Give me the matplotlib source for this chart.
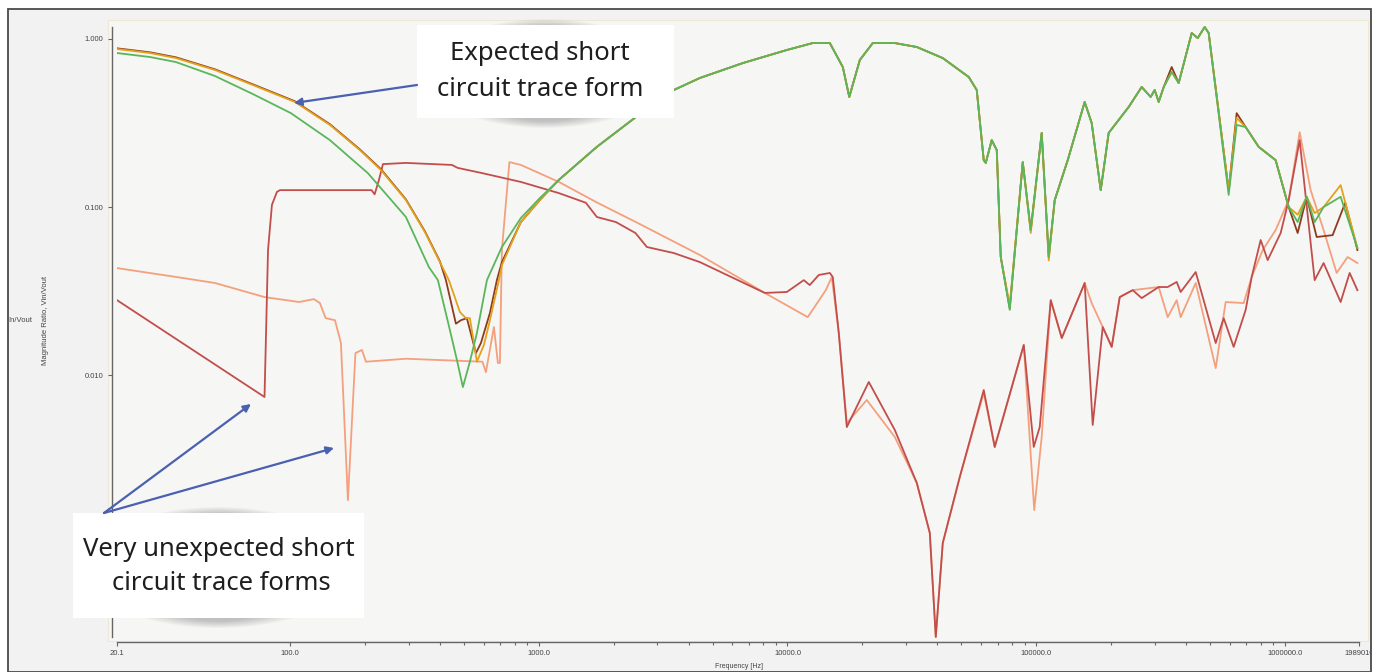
import matplotlib
matplotlib.use("Agg")
import matplotlib.pyplot as plt
from matplotlib.patches import Rectangle, Ellipse, FancyArrowPatch
from matplotlib.ticker import FixedLocator, NullFormatter

# ---------------- data ----------------
# Expected short-circuit traces
gold_freq = [20.1, 27.3, 34.7, 49.8, 70.8, 104.4, 144.4, 190.7, 231.6, 291.9, 348.0, 399.9,
             434.6, 481.3, 508.7, 527.9, 563.4, 601.1, 635.5, 690.4, 710, 846.6, 1009, 1203,
             1711, 2455, 3490, 4441, 6612, 9936, 12640, 14800, 16690, 17720, 19540, 22030,
             27010, 33110, 42120, 53580, 57700, 61560, 62720, 66290, 69450, 72070, 78330,
             88350, 95130, 105300, 112400, 118800, 134000, 156800, 167300, 181900, 195800,
             235700, 265800, 288900, 299800, 311200, 326000, 351000, 374400, 422500, 446600,
             476400, 494400, 594900, 640600, 696300, 785500, 919100, 1037000, 1127000,
             1225000, 1319000, 1433000, 1678000, 1960000]
gold_mag = [0.872, 0.825, 0.770, 0.654, 0.532, 0.422, 0.308, 0.218, 0.166, 0.110, 0.0710, 0.0470,
            0.0367, 0.0237, 0.0218, 0.0218, 0.0120, 0.0151, 0.0212, 0.0367, 0.0451, 0.0814, 0.110, 0.145,
            0.228, 0.343, 0.497, 0.586, 0.719, 0.860, 0.946, 0.946, 0.681, 0.452, 0.750, 0.946,
            0.946, 0.896, 0.770, 0.594, 0.497, 0.190, 0.183, 0.250, 0.218, 0.0504, 0.0260,
            0.185, 0.0700, 0.276, 0.0480, 0.110, 0.190, 0.422, 0.316, 0.126, 0.276,
            0.394, 0.518, 0.452, 0.497, 0.422, 0.518, 0.636, 0.547, 1.085, 1.013,
            1.178, 1.085, 0.126, 0.339, 0.299, 0.228, 0.190, 0.100, 0.0900,
            0.115, 0.0920, 0.100, 0.135, 0.0570]

brown_freq = [20.1, 27.3, 34.7, 49.8, 70.8, 104.4, 144.4, 190.7, 231.6, 291.9, 348.0, 399.9,
              422.8, 463.8, 485.8, 513.4, 558.2, 584.7, 635.5, 677.8, 710, 846.6, 1009, 1203,
              1711, 2455, 3490, 4441, 6612, 9936, 12640, 14800, 16690, 17720, 19540, 22030,
              27010, 33110, 42120, 53580, 57700, 61560, 62720, 66290, 69450, 72070, 78330,
              88350, 95130, 105300, 112400, 118800, 134000, 156800, 167300, 181900, 195800,
              235700, 265800, 288900, 299800, 311200, 326000, 351000, 374400, 422500, 446600,
              476400, 494400, 594900, 640600, 696300, 785500, 919100, 1037000, 1127000,
              1225000, 1344000, 1558000, 1751000, 1960000]
brown_mag = [0.880, 0.833, 0.778, 0.660, 0.537, 0.426, 0.311, 0.220, 0.168, 0.111, 0.0717, 0.0475,
             0.0367, 0.0202, 0.0212, 0.0218, 0.0135, 0.0155, 0.0234, 0.0367, 0.0470, 0.0814, 0.110, 0.145,
             0.228, 0.343, 0.497, 0.586, 0.719, 0.860, 0.946, 0.946, 0.681, 0.452, 0.750, 0.946,
             0.946, 0.896, 0.770, 0.594, 0.497, 0.190, 0.183, 0.250, 0.218, 0.0504, 0.0250,
             0.185, 0.0729, 0.276, 0.0504, 0.110, 0.190, 0.422, 0.316, 0.126, 0.276,
             0.394, 0.518, 0.452, 0.497, 0.422, 0.518, 0.681, 0.547, 1.085, 1.013,
             1.178, 1.085, 0.126, 0.362, 0.299, 0.228, 0.190, 0.100, 0.0700,
             0.115, 0.0663, 0.0680, 0.106, 0.0554]

green_freq = [20.1, 27.3, 34.7, 49.8, 70.8, 100.6, 144.4, 205.3, 291.9, 361.1, 392.6, 438.7,
              468.1, 494.8, 527.9, 563.4, 618.1, 710, 846.6, 1009, 1203,
              1711, 2455, 3490, 4441, 6612, 9936, 12640, 14800, 16690, 17720, 19540, 22030,
              27010, 33110, 42120, 53580, 57700, 61560, 62720, 66290, 69450, 72070, 78330,
              88350, 95130, 105300, 112400, 118800, 134000, 156800, 167300, 181900, 195800,
              235700, 265800, 288900, 299800, 311200, 326000, 351000, 374400, 422500, 446600,
              476400, 494400, 594900, 640600, 696300, 785500, 919100, 1037000, 1127000,
              1225000, 1319000, 1433000, 1678000, 1960000]
green_mag = [0.825, 0.781, 0.729, 0.602, 0.470, 0.362, 0.250, 0.159, 0.0872, 0.0439, 0.0367, 0.0185,
             0.0123, 0.00848, 0.0120, 0.0178, 0.0367, 0.0578, 0.0860, 0.113, 0.145,
             0.228, 0.343, 0.497, 0.586, 0.719, 0.860, 0.946, 0.946, 0.681, 0.452, 0.750, 0.946,
             0.946, 0.896, 0.770, 0.594, 0.497, 0.190, 0.183, 0.250, 0.218, 0.0504, 0.0244,
             0.185, 0.0729, 0.276, 0.0504, 0.110, 0.190, 0.422, 0.316, 0.126, 0.276,
             0.394, 0.518, 0.452, 0.497, 0.422, 0.518, 0.636, 0.547, 1.085, 1.013,
             1.178, 1.085, 0.118, 0.308, 0.299, 0.228, 0.190, 0.100, 0.0814,
             0.115, 0.0814, 0.100, 0.115, 0.0570]

# Unexpected short-circuit traces
red_freq = [20.1, 78.8, 81.4, 84.4, 88.4, 90.9, 143.8, 212.3, 218.5, 227.4, 236.0, 291.9, 447.0,
            471.2, 592.8, 846.6, 1203, 1545, 1711, 2040, 2446, 2719, 3490, 4441, 8103, 9936,
            11630, 12290, 13360, 14800, 15210, 16080, 17320, 21230, 27010, 33110, 37350, 39480,
            42120, 49300, 61560, 68160, 89190, 97810, 103400, 114500, 126800, 156800, 168900,
            185300, 201400, 216900, 244600, 265800, 311200, 338300, 367600, 381400, 438400,
            527600, 567900, 623100, 696300, 736100, 800100, 853700, 962700, 1037000, 1148000,
            1319000, 1433000, 1678000, 1824000, 1960000]
red_mag = [0.0279, 0.00740, 0.0554, 0.103, 0.123, 0.126, 0.126, 0.126, 0.119, 0.145, 0.180, 0.183,
           0.178, 0.171, 0.159, 0.141, 0.121, 0.106, 0.0872, 0.0814, 0.0700, 0.0578, 0.0532, 0.0470,
           0.0308, 0.0312, 0.0367, 0.0343, 0.0394, 0.0405, 0.0383, 0.0178, 0.00490, 0.00909,
           0.00471, 0.00228, 0.00115, 0.000276, 0.00100, 0.00247, 0.00814, 0.00373, 0.0151,
           0.00373, 0.00490, 0.0279, 0.0166, 0.0353, 0.00504, 0.0193, 0.0147, 0.0291, 0.0320,
           0.0287, 0.0334, 0.0334, 0.0358, 0.0312, 0.0410, 0.0155, 0.0218, 0.0147, 0.0244,
           0.0383, 0.0636, 0.0483, 0.0700, 0.110, 0.250, 0.0367, 0.0464, 0.0272, 0.0405, 0.0320]

salmon_freq = [20.1, 34.9, 49.8, 78.8, 108.4, 124.5, 131.6, 138.8, 151.3, 159.9, 170.6, 182.9,
               194.2, 201.6, 291.9, 592.8, 612.3, 659.4, 684.1, 697, 710, 761, 846.6, 1203,
               1720, 2455, 4441, 8103, 12060, 14260, 15070, 16080, 17320, 20840, 27010, 33110,
               37350, 39480, 42120, 49300, 61560, 68160, 89190, 98260, 105300, 114500, 126800,
               156800, 167300, 185300, 201400, 216900, 244600, 311200, 338300, 367600, 381400,
               438400, 527600, 578500, 683600, 736100, 815100, 919100, 1037000, 1148000,
               1271000, 1433000, 1617000, 1790000, 1960000]
salmon_mag = [0.0433, 0.0383, 0.0353, 0.0291, 0.0272, 0.0283, 0.0268, 0.0218, 0.0212, 0.0155,
              0.00180, 0.0135, 0.0141, 0.0120, 0.0125, 0.0120, 0.0104, 0.0193, 0.0118, 0.0118,
              0.0554, 0.185, 0.178, 0.141, 0.106, 0.0814, 0.0518, 0.0308, 0.0221, 0.0320, 0.0383,
              0.0178, 0.00518, 0.00710, 0.00428, 0.00228, 0.00115, 0.000276, 0.00100, 0.00247,
              0.00782, 0.00373, 0.0151, 0.00157, 0.00428, 0.0279, 0.0166, 0.0353, 0.0268, 0.0193,
              0.0147, 0.0291, 0.0320, 0.0334, 0.0221, 0.0279, 0.0221, 0.0353, 0.0110, 0.0272,
              0.0268, 0.0383, 0.0554, 0.0729, 0.110, 0.279, 0.126, 0.0729, 0.0405, 0.0504, 0.0464]

x_ticks = [20.1, 100.0, 1000.0, 10000.0, 100000.0, 1000000.0, 1989010.0]
x_tick_labels = ["20.1", "100.0", "1000.0", "10000.0", "100000.0", "1000000.0", "1989010"]
y_ticks = [0.010, 0.100, 1.000]
y_tick_labels = ["0.010", "0.100", "1.000"]

# ---------------- figure ----------------
W, H = 1381, 672
fig = plt.figure(figsize=(W / 100, H / 100), dpi=100)
fig.patch.set_facecolor("white")


def fx(px):
    return px / W


def fy(py):
    return 1 - py / H


# inner light-grey panel and plot area
fig.add_artist(Rectangle((fx(7.5), fy(672)), fx(1371) - fx(7.5), fy(8.5) - fy(672),
                         transform=fig.transFigure, facecolor="#f2f2f2", edgecolor="none", zorder=-10))
fig.add_artist(Rectangle((fx(108), fy(641)), fx(1368) - fx(108), fy(20) - fy(641),
                         transform=fig.transFigure, facecolor="#f6f6f5", edgecolor="#eee8d5",
                         linewidth=0.8, zorder=-9))

ax = fig.add_axes([fx(117), fy(642), fx(1359) - fx(117), fy(26) - fy(642)])
ax.set_facecolor("none")
ax.set_xscale("log")
ax.set_yscale("log")
ax.set_xlim(20.1, 1989010)
ax.set_ylim(2.576e-4, 1.195)

lw = 1.3
ax.plot(salmon_freq, salmon_mag, color="#f4a07c", lw=lw, zorder=2)
ax.plot(red_freq, red_mag, color="#c24e4c", lw=lw, zorder=3)
ax.plot(brown_freq, brown_mag, color="#8e3c1e", lw=lw, zorder=4)
ax.plot(gold_freq, gold_mag, color="#e3a21c", lw=lw, zorder=5)
ax.plot(green_freq, green_mag, color="#5ab65a", lw=lw, zorder=6)

for s in ["top", "right"]:
    ax.spines[s].set_visible(False)
ax.spines["left"].set_position(("outward", 3.6))
ax.spines["left"].set_bounds(2.76e-4, 1.18)
ax.spines["left"].set_color("#666666")
ax.spines["bottom"].set_color("#666666")
ax.spines["left"].set_linewidth(1.0)
ax.spines["bottom"].set_linewidth(1.0)

ax.xaxis.set_major_locator(FixedLocator(x_ticks))
ax.set_xticklabels(x_tick_labels)
minors = [m * 10 ** k for k in range(2, 6) for m in range(2, 10)]
ax.xaxis.set_minor_locator(FixedLocator(minors))
ax.xaxis.set_minor_formatter(NullFormatter())
ax.yaxis.set_major_locator(FixedLocator(y_ticks))
ax.set_yticklabels(y_tick_labels)
ax.yaxis.set_minor_locator(FixedLocator([]))

ax.tick_params(axis="both", which="major", direction="out", length=3, width=0.8,
               colors="#666666", labelcolor="#444444", labelsize=5.5, pad=3)
ax.tick_params(axis="x", which="minor", direction="out", length=2, width=0.8, colors="#666666")
for lab in ax.get_xticklabels() + ax.get_yticklabels():
    lab.set_fontfamily("Liberation Sans")

fig.text(fx(45), fy(320), "Magnitude Ratio, Vin/Vout", rotation=90, ha="center", va="center",
         fontsize=5.5, color="#444444", family="Liberation Sans")
fig.text(fx(8), fy(320), "In/Vout", ha="left", va="center",
         fontsize=5.5, color="#444444", family="Liberation Sans")
fig.text(fx(739), fy(667), "Frequency [Hz]", ha="center", va="center",
         fontsize=5.0, color="#444444", family="Liberation Sans")


# ---------------- annotation boxes ----------------
def shadow_box(x0, y0, x1, y1):
    cx, cy = (x0 + x1) / 2, (y0 + y1) / 2 + 2
    w, h = (x1 - x0), (y1 - y0)
    n = 14
    for k in range(n):
        t = k / (n - 1)
        e = Ellipse((fx(cx), fy(cy)), fx(w * (0.95 - 0.35 * t)), (h + 16 - 14 * t) / H,
                    transform=fig.transFigure, facecolor="#707070", edgecolor="none",
                    alpha=0.03, zorder=8)
        fig.add_artist(e)
    fig.add_artist(Rectangle((fx(x0), fy(y1)), fx(x1) - fx(x0), fy(y0) - fy(y1),
                             transform=fig.transFigure, facecolor="white", edgecolor="none",
                             zorder=9))


shadow_box(417, 25, 674, 118)
shadow_box(73, 513, 364, 618)

ann_font = dict(family="Noto Sans", size=18.5, color="#1e1e1e", zorder=12)
fig.text(fx(540), fy(53), "Expected short", ha="center", va="center", **ann_font)
fig.text(fx(540), fy(89), "circuit trace form", ha="center", va="center", **ann_font)
fig.text(fx(219), fy(549), "Very unexpected short", ha="center", va="center", **ann_font)
fig.text(fx(221), fy(584), "circuit trace forms", ha="center", va="center", **ann_font)

arrow_color = "#4a60b0"
for (x0, y0, x1, y1) in [(417, 85, 294, 103), (104, 513, 251, 404), (104, 513, 334, 448)]:
    fig.add_artist(FancyArrowPatch((fx(x0), fy(y0)), (fx(x1), fy(y1)), transform=fig.transFigure,
                                   arrowstyle="-|>", mutation_scale=11, color=arrow_color,
                                   lw=1.6, shrinkA=0, shrinkB=0, zorder=11))

# outer frame (clips the last tick label like the original)
fig.add_artist(Rectangle((fx(1371), 0), 1 - fx(1371), 1, transform=fig.transFigure,
                         facecolor="white", edgecolor="none", zorder=19))
fig.add_artist(Rectangle((fx(7.5), fy(672)), fx(1371) - fx(7.5), fy(8.5) - fy(672),
                         transform=fig.transFigure, facecolor="none", edgecolor="#4a4a4a",
                         linewidth=1.3, zorder=20))

fig.savefig("out.png", dpi=100)
